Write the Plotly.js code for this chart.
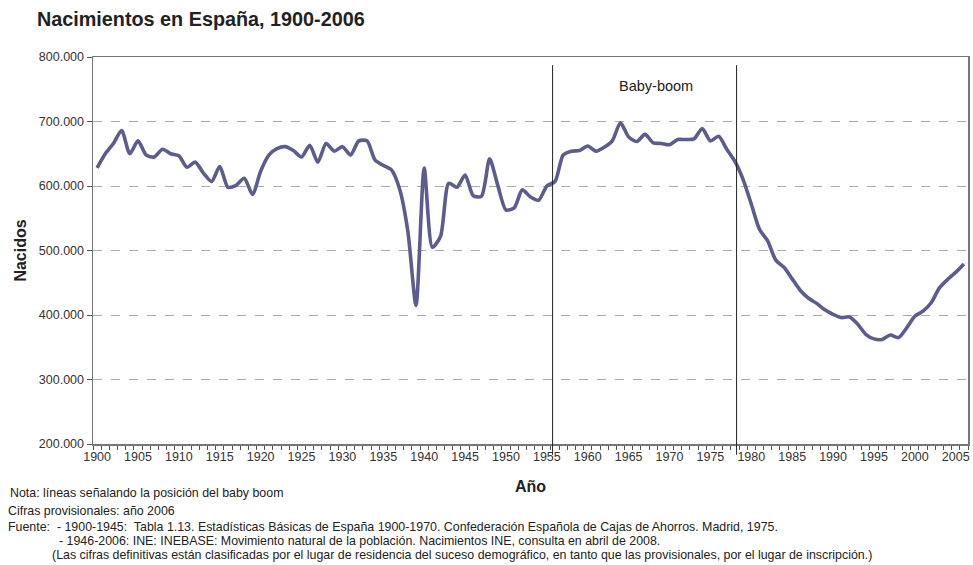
<!DOCTYPE html>
<html>
<head>
<meta charset="utf-8">
<script src="https://cdn.plot.ly/plotly-3.0.1.min.js"></script>
<style>html,body{margin:0;padding:0;background:#fff;}#chart{width:973px;height:565px;}</style>
</head>
<body>
<div id="chart"></div>
<script>
const years = [];
for (let y = 1900; y <= 2006; y++) years.push(y);

// Nacimientos (births)
const births = [
  628000, 650000, 666000, 686000, 650000, 670000, 648000, 645000, 657000, 650000, // 1900-1909
  647000, 629000, 637000, 620000, 607000, 630000, 598000, 601000, 612000, 587000, // 1910-1919
  623000, 648000, 658000, 661000, 655000, 645000, 663000, 637000, 666000, 654000, // 1920-1929
  661000, 648000, 670000, 670000, 640000, 632000, 625000, 595000, 530000, 415000, // 1930-1939
  628000, 505000, 522000, 604000, 598000, 617000, 585000, 584000, 642000, 601000, // 1940-1949
  563000, 566000, 594000, 583000, 578000, 600000, 607000, 648000, 654000, 655000, // 1950-1959
  662000, 654000, 660000, 670000, 698000, 676000, 669000, 680000, 667000, 666000, // 1960-1969
  664000, 672000, 672000, 673000, 689000, 670000, 677000, 657000, 638000, 610000, // 1970-1979
  572000, 533000, 515000, 485000, 474000, 456000, 438000, 426000, 418000, 408000, // 1980-1989
  401000, 396000, 397000, 386000, 370000, 363000, 362000, 369000, 365000, 380000, // 1990-1999
  398000, 406000, 419000, 442000, 455000, 466000, 479000                          // 2000-2006
];

const tickYears = [1900,1905,1910,1915,1920,1925,1930,1935,1940,1945,1950,1955,1960,1965,1970,1975,1980,1985,1990,1995,2000,2005];
const yTicks = [200000,300000,400000,500000,600000,700000,800000];
const boomLines = [1955.7, 1978.2];

const footnotes = [
  "Nota: líneas señalando la posición del baby boom",
  "Cifras provisionales: año 2006",
  "Fuente:  - 1900-1945:  Tabla 1.13. Estadísticas Básicas de España 1900-1970. Confederación Española de Cajas de Ahorros. Madrid, 1975.",
  "- 1946-2006: INE: INEBASE: Movimiento natural de la población. Nacimientos INE, consulta en abril de 2008.",
  "(Las cifras definitivas están clasificadas por el lugar de residencia del suceso demográfico, en tanto que las provisionales, por el lugar de inscripción.)"
];
const footX = [8, 6, 6, 57, 50];
const footY = [493, 511, 527, 541, 555];

const FONT = 'Liberation Sans, Arial, sans-serif';

const trace = {
  x: years, y: births, type: 'scatter', mode: 'lines',
  line: {color: '#5c5c8f', width: 3.6, shape: 'spline', smoothing: 0.7},
  hoverinfo: 'x+y'
};

const shapes = boomLines.map(x => ({
  type: 'line', xref: 'x', yref: 'paper', x0: x, x1: x, y0: -0.028, y1: 0.979,
  line: {color: '#222', width: 1}
}));

const annotations = [
  {text: 'Baby-boom', xref: 'x', yref: 'paper', x: 1968.3, y: 0.925, yanchor: 'middle', showarrow: false,
   font: {family: FONT, size: 14.5, color: '#222'}}
];
footnotes.forEach((t, i) => annotations.push({
  text: t, xref: 'paper', yref: 'paper', xanchor: 'left', yanchor: 'middle',
  x: (footX[i] - 93) / 875, y: (444 - footY[i]) / 387, showarrow: false,
  font: {family: FONT, size: 12.4, color: '#222'}
}));

const layout = {
  width: 973, height: 565,
  margin: {l: 93, r: 5, t: 57, b: 121},
  paper_bgcolor: '#fff', plot_bgcolor: '#fff',
  separators: ',.',
  showlegend: false,
  title: {text: '<b>Nacimientos en España, 1900-2006</b>', x: 37/973, xanchor: 'left', y: 1 - 19/565, yanchor: 'middle',
          font: {family: FONT, size: 19.8, color: '#222'}},
  xaxis: {
    range: [1899.5, 2006.5], tickvals: tickYears, ticktext: tickYears.map(String),
    ticks: '', showgrid: false, zeroline: false,
    showline: true, linecolor: '#777', linewidth: 1.5, mirror: true,
    tickfont: {family: FONT, size: 12.5, color: '#333'},
    minor: {tick0: 1899.5, dtick: 1, ticks: 'outside', ticklen: 4, tickcolor: '#555', showgrid: false},
    title: {text: '<b>Año</b>', font: {family: FONT, size: 16, color: '#222'}, standoff: 18}
  },
  yaxis: {
    range: [200000, 800000], tickvals: yTicks, tickformat: ',d',
    ticks: 'outside', ticklen: 5, tickcolor: '#555',
    showgrid: true, gridcolor: '#aaa', griddash: 'dash', gridwidth: 1,
    zeroline: false, showline: true, linecolor: '#777', linewidth: 1.5, mirror: true,
    tickfont: {family: FONT, size: 12.5, color: '#333'},
    title: {text: '<b>Nacidos</b>', font: {family: FONT, size: 16, color: '#222'}, standoff: 8}
  },
  shapes: shapes,
  annotations: annotations
};

Plotly.newPlot('chart', [trace], layout, {displayModeBar: false, staticPlot: true});
</script>
</body>
</html>
